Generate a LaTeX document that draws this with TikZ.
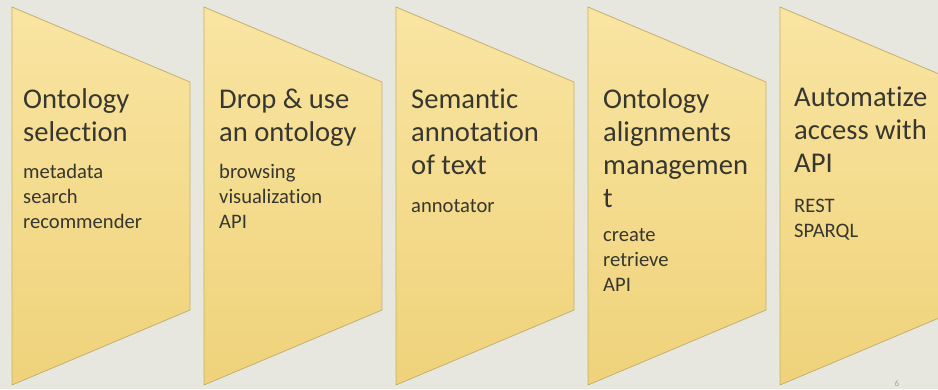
\documentclass[tikz,border=0pt]{standalone}
\usepackage{fontspec}
\setmainfont[Ligatures={NoCommon}]{Carlito}
\definecolor{bgc}{RGB}{231,231,223}
\definecolor{fillTop}{RGB}{249,229,162}
\definecolor{fillBot}{RGB}{239,210,122}
\definecolor{edgec}{RGB}{196,176,112}
\definecolor{textc}{RGB}{55,55,47}
\definecolor{numc}{RGB}{165,165,160}
\begin{document}
\begin{tikzpicture}[x=1pt,y=-1pt,
  chev/.style={top color=fillTop, bottom color=fillBot, draw=edgec, line width=0.8pt},
  ttl/.style={anchor=base west, inner sep=0pt, text=textc, font=\fontsize{28.6}{33}\selectfont},
  sub/.style={anchor=base west, inner sep=0pt, text=textc, font=\fontsize{20.6}{25}\selectfont}]
\useasboundingbox (0,0) rectangle (938,389);
\fill[bgc] (0,0) rectangle (938,389);
\begin{scope}
\clip (0,0) rectangle (938,389);
\foreach \i in {0,...,4}{
  \pgfmathsetmacro\L{12+192*\i}
  \pgfmathsetmacro\R{\L+178}
  \path[chev] (\L,7) -- (\R,82) -- (\R,310) -- (\L,385) -- cycle;
}
\end{scope}
% shape 1
\node[ttl] (a1) at (23,108) {Ontology};
\node[ttl] (a2) at (23,141) {selection};
\node[sub] (a3) at (23,178) {metadata};
\node[sub] (a4) at (23,203) {search};
\node[sub] (a5) at (23,228) {recommender};
% shape 2
\node[ttl] (b1) at (219,108) {Drop \& use};
\node[ttl] (b2) at (219,141) {an ontology};
\node[sub] (b3) at (219,178) {browsing};
\node[sub] (b4) at (219,203) {visualization};
\node[sub] (b5) at (219,228) {API};
% shape 3
\node[ttl] (c1) at (411,108) {Semantic};
\node[ttl] (c2) at (411,141) {annotation};
\node[ttl] (c3) at (411,174) {of text};
\node[sub] (c4) at (411,212) {annotator};
% shape 4
\node[ttl] (d1) at (603,108) {Ontology};
\node[ttl] (d2) at (603,141) {alignments};
\node[ttl] (d3) at (603,174) {managemen};
\node[ttl] (d4) at (603,207) {t};
\node[sub] (d5) at (603,241) {create};
\node[sub] (d6) at (603,266) {retrieve};
\node[sub] (d7) at (603,291) {API};
% shape 5
\node[ttl] (e1) at (794,106) {Automatize};
\node[ttl] (e2) at (794,139) {access with};
\node[ttl] (e3) at (794,172) {API};
\node[sub] (e4) at (794,212) {REST};
\node[sub] (e5) at (794,237) {SPARQL};
% page number
\node[anchor=base, inner sep=0pt, text=numc, font=\fontsize{9}{10}\selectfont] (pn) at (897,386) {6};
\end{tikzpicture}
\end{document}
